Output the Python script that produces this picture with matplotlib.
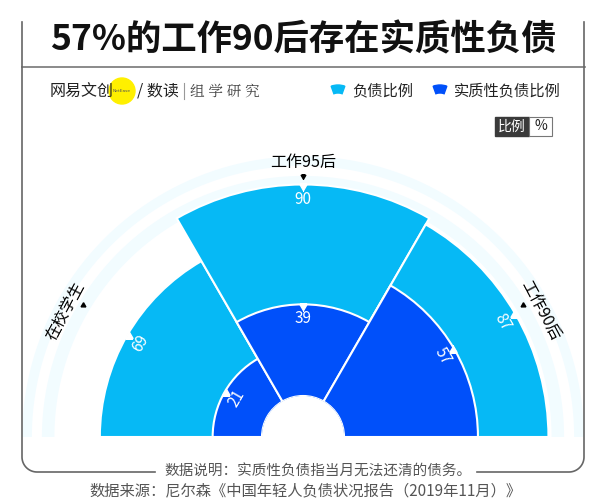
import numpy as np
import matplotlib
matplotlib.use('agg')
import matplotlib.pyplot as plt
from matplotlib.lines import Line2D
from matplotlib.patches import Wedge, Rectangle, Circle

plt.rcParams['font.family'] = ['Noto Sans CJK SC', 'DejaVu Sans']

# data
categories = ['在校学生', '工作95后', '工作90后']
debt_ratio = [69, 90, 87]
real_debt_ratio = [21, 39, 57]
legend_labels = ['负债比例', '实质性负债比例']
title = '57%的工作90后存在实质性负债'
note = '数据说明：实质性负债指当月无法还清的债务。'
source = '数据来源：尼尔森《中国年轻人负债状况报告（2019年11月）》'

LIGHT = '#06B9F5'
DARK = '#0050FA'
GREY = '#555555'

W, H = 606, 500
fig = plt.figure(figsize=(W / 100, H / 100), dpi=100)
fig.patch.set_facecolor('white')


def fx(x):
    return x / W


def fy(y):
    return 1 - y / H


# polar chart geometry (pixels)
cx, cy = 303, 437
ppu = 2.35          # pixels per unit
hole = 41           # inner hole radius in px
rmax = 108
R = hole + rmax * ppu
# half-wedge is placed in the middle of a square box
ax = fig.add_axes([fx(cx - R), (H - cy - R / 2) / H, 2 * R / W, 2 * R / H],
                  projection='polar')
ax.set_thetamin(0)
ax.set_thetamax(180)
ax.set_ylim(0, rmax)
ax.set_rorigin(-hole / ppu)
ax.set_axis_off()

# faint background rings
arc = np.linspace(0, np.pi, 200)
for rr, lw in [(91, 9), (100, 7)]:
    ax.plot(arc, np.full_like(arc, rr), color='#f2fcff', lw=lw, zorder=0)

angles = np.array([150, 90, 30])
theta = np.deg2rad(angles)
width = np.deg2rad(60)

ax.bar(theta, debt_ratio, width=width, color=LIGHT, edgecolor='white',
       linewidth=1.5, zorder=2)
ax.bar(theta, real_debt_ratio, width=width, color=DARK, edgecolor='white',
       linewidth=1.5, zorder=3)

for t, deg, v in zip(theta, angles, debt_ratio):
    ax.plot(t, v - 0.8, marker=(3, 0, deg + 90), color='white', ms=6, zorder=4)
    ax.text(t, v - 6.5, str(v), rotation=deg - 90, rotation_mode='anchor',
            ha='center', va='center', color='white', fontsize=11, zorder=5)
for t, deg, v in zip(theta, angles, real_debt_ratio):
    ax.plot(t, v - 0.8, marker=(3, 0, deg + 90), color='white', ms=6, zorder=4)
    ax.text(t, v - 6, str(v), rotation=deg - 90, rotation_mode='anchor',
            ha='center', va='center', color='white', fontsize=11, zorder=5)

# category labels with small black pointers
label_angles = [152, 90, 28]
pointer_angles = [149, 90, 31]
label_r = [97, 99.5, 97]
pointer_r = [92, 93.5, 92]
for la, pa, lr, pr, c in zip(label_angles, pointer_angles, label_r, pointer_r, categories):
    ax.plot(np.deg2rad(pa), pr, marker=(3, 0, pa + 90), color='black', ms=4, zorder=4)
    ax.text(np.deg2rad(la), lr, c, rotation=la - 90, rotation_mode='anchor',
            ha='center', va='center', color='black', fontsize=11.5)

# title and frame
fig.text(fx(303), fy(40), title, ha='center', va='center', fontsize=25.5,
         fontweight='bold', color='#111111')
fig.add_artist(Line2D([fx(22), fx(585)], [fy(67), fy(67)], color='#777777', lw=1.2))
rc = 15
corner = np.linspace(0, np.pi / 2, 20)
left_x = np.concatenate([[22, 22], 22 + rc - rc * np.cos(corner), [155]])
left_y = np.concatenate([[22, 472 - rc], 472 - rc + rc * np.sin(corner), [472]])
right_x = np.concatenate([[477], 584 - rc + rc * np.cos(corner[::-1]), [584, 584]])
right_y = np.concatenate([[472], 472 - rc + rc * np.sin(corner[::-1]), [472 - rc, 22]])
fig.add_artist(Line2D(fx(left_x), fy(left_y), color='#666666', lw=1.2))
fig.add_artist(Line2D(fx(right_x), fy(right_y), color='#666666', lw=1.2))

# brand row
fig.text(fx(50), fy(91), '网易文创', ha='left', va='center', fontsize=11.5, color='#222222')
fig.add_artist(Circle((122, H - 91), 13, color='#FFF000', transform=None))
fig.text(fx(122), fy(91), 'NetEase', ha='center', va='center', fontsize=3.2,
         color='#555555', family='DejaVu Sans')
fig.text(fx(137), fy(91), '/ 数读', ha='left', va='center', fontsize=11.5, color='#222222')
fig.add_artist(Line2D([fx(184), fx(184)], [fy(83), fy(99)], color='#999999', lw=0.8))
fig.text(fx(190), fy(91), '组 学 研 究', ha='left', va='center', fontsize=10.5,
         color='#444444', family=['Noto Serif CJK SC', 'Noto Sans CJK SC', 'DejaVu Sans'])

# legend
for ix, lab, col in [(338, legend_labels[0], LIGHT), (440, legend_labels[1], DARK)]:
    fig.add_artist(Wedge((ix, H - 91 - 14), 20, 70, 110, width=8, color=col,
                         transform=None))
    fig.text(fx(ix + 14), fy(91), lab, ha='left', va='center', fontsize=11, color='#222222')

# unit toggle
fig.add_artist(Rectangle((fx(495), fy(136)), (529 - 495) / W, 19 / H, color='#3a3a3a',
                         transform=fig.transFigure))
fig.add_artist(Rectangle((fx(529), fy(136)), (552 - 529) / W, 19 / H, facecolor='white',
                         edgecolor='#777777', lw=0.8, transform=fig.transFigure))
fig.text(fx(512), fy(126.5), '比例', ha='center', va='center', fontsize=10, color='white')
fig.text(fx(540.5), fy(126.5), '%', ha='center', va='center', fontsize=10, color='#222222')

# footnotes
fig.text(fx(318), fy(472), note, ha='center', va='center', fontsize=10.5, color=GREY)
fig.text(fx(305), fy(491), source, ha='center', va='center', fontsize=11, color=GREY)

fig.savefig('out.png', dpi=100, facecolor='white')
